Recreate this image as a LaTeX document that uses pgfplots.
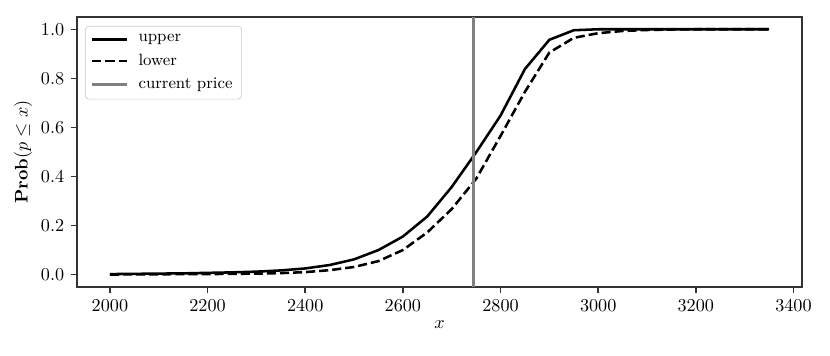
\documentclass[border=0pt]{standalone}
\usepackage{pgfplots}
\pgfplotsset{compat=1.18}
\pgfplotstableread{
x upper lower
2000 0.002 0.000
2050 0.003 0.001
2100 0.004 0.001
2150 0.005 0.002
2200 0.007 0.002
2250 0.009 0.003
2300 0.012 0.004
2350 0.017 0.006
2400 0.025 0.010
2450 0.039 0.018
2500 0.062 0.031
2550 0.100 0.055
2600 0.155 0.100
2650 0.237 0.172
2700 0.357 0.267
2750 0.498 0.390
2800 0.648 0.565
2850 0.838 0.745
2900 0.957 0.905
2950 0.996 0.965
3000 1.000 0.984
3050 1.000 0.993
3100 1.000 0.997
3150 1.000 0.999
3200 1.000 1.000
3250 1.000 1.000
3300 1.000 1.000
3350 1.000 1.000
}\datatable
\definecolor{axgray}{HTML}{333333}
\definecolor{pricegray}{HTML}{808080}
\begin{document}
\begin{tikzpicture}
\begin{axis}[
  scale only axis,
  width=399pt, height=148.5pt,
  xmin=1932.5, xmax=3417.5,
  ymin=-0.05, ymax=1.05,
  xtick={2000,2200,2400,2600,2800,3000,3200,3400},
  ytick={0,0.2,0.4,0.6,0.8,1.0},
  yticklabel style={/pgf/number format/fixed,/pgf/number format/fixed zerofill,/pgf/number format/precision=1},
  xticklabel style={/pgf/number format/1000 sep={}},
  tick align=outside,
  tick pos=left,
  major tick length=3.5pt,
  axis line style={axgray, line width=0.8pt},
  every tick/.style={axgray, line width=0.8pt},
  xlabel={$x$},
  ylabel={$\mathbf{Prob}(p \le x)$},
  xlabel style={yshift=2pt},
  ylabel style={yshift=-2pt},
  legend cell align=left,
  legend style={draw=black!20, rounded corners=2pt, fill=white, fill opacity=0.8, text opacity=1, font=\small, inner xsep=3pt, inner ysep=2.5pt, row sep=1.2pt, at={(0.011,0.967)}, anchor=north west},
  legend image code/.code={\draw[#1] (0pt,0pt) -- (19pt,0pt); \path (22.5pt,0pt);},
]
\addplot[black, line width=1.4pt] table[x=x, y=upper] {\datatable};
\addlegendentry{upper}
\addplot[black, line width=1.4pt, dash pattern=on 5pt off 2.2pt] table[x=x, y=lower] {\datatable};
\addlegendentry{lower}
\addplot[pricegray, line width=1.8pt] coordinates {(2744,-0.05) (2744,1.05)};
\addlegendentry{current price}
\end{axis}
\path (-42.35pt,-37.95pt) rectangle (414.4pt,157.85pt);
\end{tikzpicture}
\end{document}
